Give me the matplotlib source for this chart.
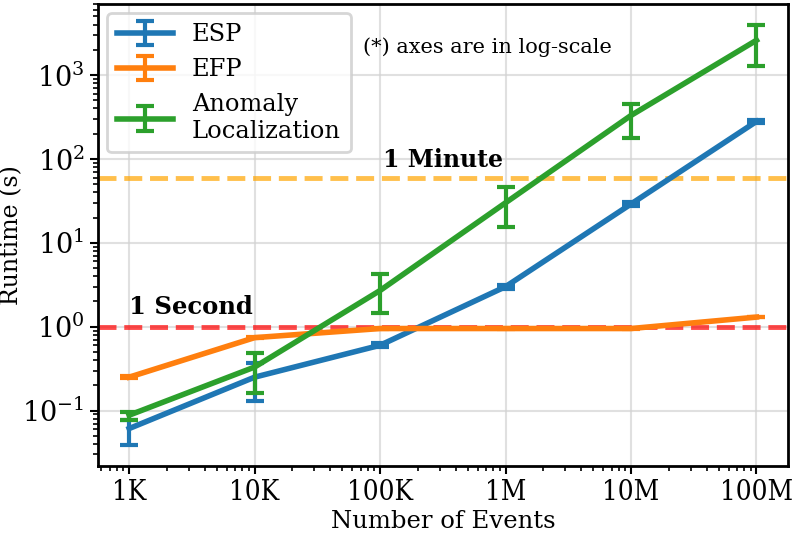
import matplotlib
matplotlib.use("Agg")
import matplotlib.pyplot as plt
from matplotlib.ticker import FixedLocator, FixedFormatter

plt.rcParams['font.family'] = ['DejaVu Serif']

# number of events (x axis)
events = [1e3, 1e4, 1e5, 1e6, 1e7, 1e8]
event_labels = ["1K", "10K", "100K", "1M", "10M", "100M"]

# runtimes in seconds, with lower / upper error amounts
esp = [0.061, 0.25, 0.60, 3.0, 29, 280]
esp_lo = [0.022, 0.12, 0.03, 0.15, 1.5, 12]
esp_hi = [0.017, 0.12, 0.03, 0.15, 1.5, 12]

efp = [0.25, 0.74, 0.95, 0.95, 0.95, 1.3]

anomaly = [0.088, 0.33, 2.7, 30, 330, 2600]
anomaly_lo = [0.010, 0.17, 1.23, 14.5, 152, 1320]
anomaly_hi = [0.008, 0.15, 1.6, 16, 122, 1380]

one_second = 1
one_minute = 60

fig = plt.figure(figsize=(7.95, 5.33), dpi=100)
ax = fig.add_axes([0.123, 0.126, 0.868, 0.867])

ax.axhline(one_second, color='red', alpha=0.7, linestyle='--', linewidth=3.5, zorder=1)
ax.axhline(one_minute, color='orange', alpha=0.7, linestyle='--', linewidth=3.5, zorder=1)

ax.errorbar(events, esp, yerr=[esp_lo, esp_hi], label="ESP", color='tab:blue',
            linewidth=4, capsize=6.5, capthick=3, elinewidth=3, zorder=3)
ax.errorbar(events, efp, yerr=[[0.005] * 6, [0.005] * 6], label="EFP", color='tab:orange',
            linewidth=4, capsize=6.5, capthick=3, elinewidth=3, zorder=3)
ax.errorbar(events, anomaly, yerr=[anomaly_lo, anomaly_hi], label="Anomaly\nLocalization",
            color='tab:green', linewidth=4, capsize=6.5, capthick=3, elinewidth=3, zorder=4)

ax.set_xscale('log')
ax.set_yscale('log')
ax.xaxis.set_major_locator(FixedLocator(events))
ax.xaxis.set_major_formatter(FixedFormatter(event_labels))

ax.tick_params(axis='x', which='major', labelsize=20, length=6, width=1.5)
ax.tick_params(axis='y', which='major', labelsize=19.5, length=6, width=1.5)
ax.tick_params(axis='both', which='minor', length=3.5, width=1.2)
for lbl in ax.get_xticklabels():
    lbl.set_fontstretch('condensed')
for s in ax.spines.values():
    s.set_linewidth(2)

ax.grid(True, which='major', color='lightgray', alpha=0.7, linewidth=1.5)
ax.set_axisbelow(True)

ax.set_xlabel("Number of Events", fontsize=17.5, labelpad=3)
ax.set_ylabel("Runtime (s)", fontsize=17)
ax.yaxis.set_label_coords(-0.108, 0.5)

ax.text(1000, 1.22, "1 Second", fontsize=17.5, fontweight='bold', va='bottom')
ax.text(1.05e5, 70, "1 Minute", fontsize=17, fontweight='bold', va='bottom')
ax.text(0.385, 0.907, "(*) axes are in log-scale", transform=ax.transAxes,
        fontsize=15, va='center')

leg = ax.legend(loc='upper left', fontsize=17.4, handlelength=2.3, labelspacing=0.5,
                borderaxespad=0.4, framealpha=0.8)
leg.get_frame().set_edgecolor('#cccccc')
leg.get_frame().set_linewidth(2)

fig.savefig("out.png", dpi=100)
